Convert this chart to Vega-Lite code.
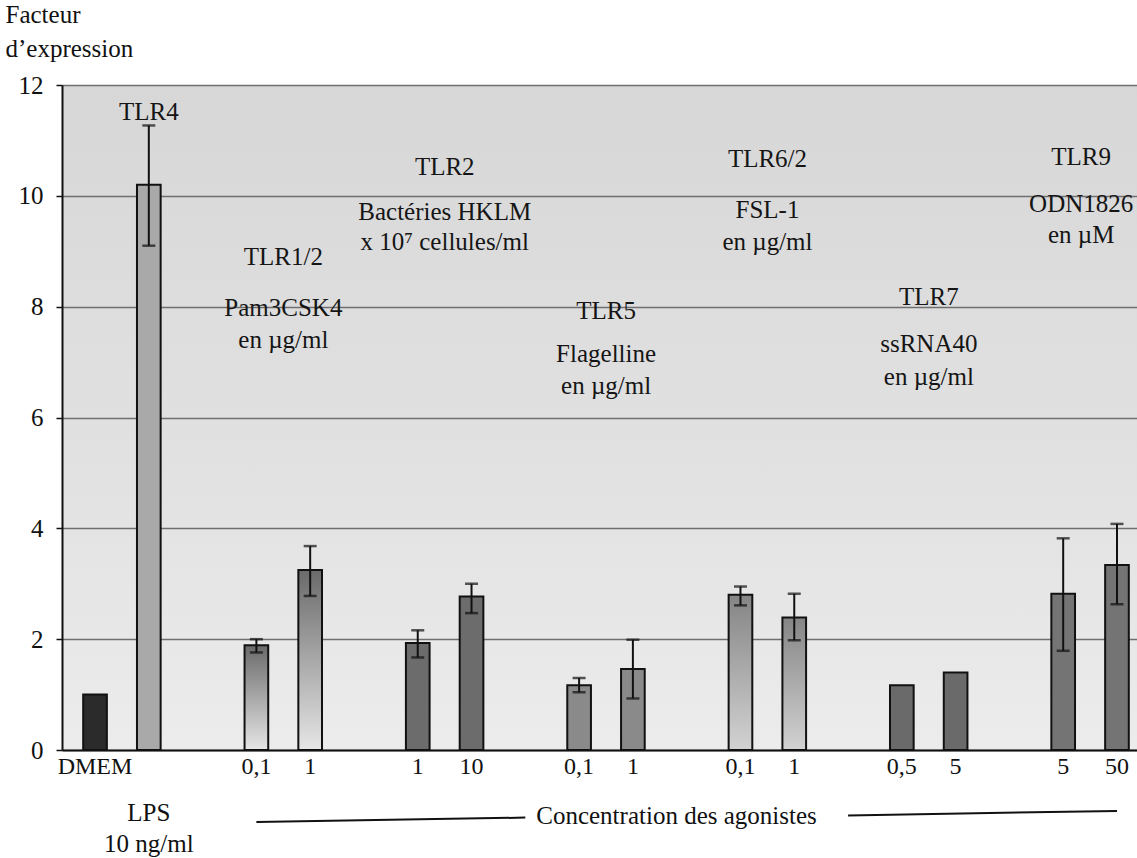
{
  "$schema": "https://vega.github.io/schema/vega-lite/v6.json",
  "width": 1075,
  "height": 665,
  "autosize": {"type": "none"},
  "padding": {"left": 62, "top": 85, "right": 0, "bottom": 108},
  "background": "white",
  "config": {
    "view": {
      "stroke": null,
      "fill": {
        "gradient": "linear", "x1": 0, "y1": 0, "x2": 0, "y2": 1,
        "stops": [
          {"offset": 0, "color": "#d7d7d7"},
          {"offset": 0.6, "color": "#e2e2e2"},
          {"offset": 1, "color": "#ececec"}
        ]
      }
    }
  },
  "datasets": {
    "barres": [
      {"groupe": "DMEM", "dose": "", "cle": "DMEM", "valeur": 1.0, "bas": null, "haut": null},
      {"groupe": "LPS", "dose": "10 ng/ml", "cle": "LPS", "valeur": 10.2, "bas": 9.1, "haut": 11.27},
      {"groupe": "TLR1/2", "dose": "0,1", "cle": "TLR1/2|0,1", "valeur": 1.89, "bas": 1.76, "haut": 2.0},
      {"groupe": "TLR1/2", "dose": "1", "cle": "TLR1/2|1", "valeur": 3.25, "bas": 2.78, "haut": 3.68},
      {"groupe": "TLR2", "dose": "1", "cle": "TLR2|1", "valeur": 1.93, "bas": 1.67, "haut": 2.16},
      {"groupe": "TLR2", "dose": "10", "cle": "TLR2|10", "valeur": 2.77, "bas": 2.47, "haut": 3.0},
      {"groupe": "TLR5", "dose": "0,1", "cle": "TLR5|0,1", "valeur": 1.17, "bas": 1.04, "haut": 1.3},
      {"groupe": "TLR5", "dose": "1", "cle": "TLR5|1", "valeur": 1.46, "bas": 0.93, "haut": 1.99},
      {"groupe": "TLR6/2", "dose": "0,1", "cle": "TLR6/2|0,1", "valeur": 2.8, "bas": 2.61, "haut": 2.95},
      {"groupe": "TLR6/2", "dose": "1", "cle": "TLR6/2|1", "valeur": 2.39, "bas": 1.98, "haut": 2.82},
      {"groupe": "TLR7", "dose": "0,5", "cle": "TLR7|0,5", "valeur": 1.17, "bas": null, "haut": null},
      {"groupe": "TLR7", "dose": "5", "cle": "TLR7|5", "valeur": 1.4, "bas": null, "haut": null},
      {"groupe": "TLR9", "dose": "5", "cle": "TLR9|5", "valeur": 2.82, "bas": 1.79, "haut": 3.82},
      {"groupe": "TLR9", "dose": "50", "cle": "TLR9|50", "valeur": 3.34, "bas": 2.63, "haut": 4.08}
    ],
    "notes": [
      {"cle": "LPS", "texte": "TLR4", "niveau": 11.52},
      {"cle": "TLR1/2|0,1", "texte": "TLR1/2", "niveau": 8.9},
      {"cle": "TLR1/2|0,1", "texte": "Pam3CSK4", "niveau": 7.98},
      {"cle": "TLR1/2|0,1", "texte": "en µg/ml", "niveau": 7.4},
      {"cle": "TLR2|1", "texte": "TLR2", "niveau": 10.52},
      {"cle": "TLR2|1", "texte": "Bactéries HKLM", "niveau": 9.71},
      {"cle": "TLR2|1", "texte": "x 10⁷ cellules/ml", "niveau": 9.17},
      {"cle": "TLR5|0,1", "texte": "TLR5", "niveau": 7.92},
      {"cle": "TLR5|0,1", "texte": "Flagelline", "niveau": 7.15},
      {"cle": "TLR5|0,1", "texte": "en µg/ml", "niveau": 6.57},
      {"cle": "TLR6/2|0,1", "texte": "TLR6/2", "niveau": 10.66},
      {"cle": "TLR6/2|0,1", "texte": "FSL-1", "niveau": 9.74},
      {"cle": "TLR6/2|0,1", "texte": "en µg/ml", "niveau": 9.16},
      {"cle": "TLR7|0,5", "texte": "TLR7", "niveau": 8.18},
      {"cle": "TLR7|0,5", "texte": "ssRNA40", "niveau": 7.33},
      {"cle": "TLR7|0,5", "texte": "en µg/ml", "niveau": 6.73},
      {"cle": "TLR9|5", "texte": "TLR9", "niveau": 10.7},
      {"cle": "TLR9|5", "texte": "ODN1826", "niveau": 9.86},
      {"cle": "TLR9|5", "texte": "en µM", "niveau": 9.29}
    ],
    "legendeLps": [
      {"cle": "LPS", "texte": "LPS", "niveau": -1.13},
      {"cle": "LPS", "texte": "10 ng/ml", "niveau": -1.7}
    ],
    "traits": [
      {"trait": "gauche", "cle": "TLR1/2|0,1", "niveau": -1.3},
      {"trait": "gauche", "cle": "·8", "niveau": -1.22},
      {"trait": "droite", "cle": "·14", "niveau": -1.18},
      {"trait": "droite", "cle": "TLR9|50", "niveau": -1.1}
    ]
  },
  "encoding": {
    "x": {
      "field": "cle",
      "type": "nominal",
      "sort": null,
      "scale": {
        "domain": ["DMEM", "LPS", "·2", "TLR1/2|0,1", "TLR1/2|1", "·5", "TLR2|1", "TLR2|10", "·8", "TLR5|0,1", "TLR5|1", "·11", "TLR6/2|0,1", "TLR6/2|1", "·14", "TLR7|0,5", "TLR7|5", "·17", "TLR9|5", "TLR9|50"],
        "range": [0, 1088],
        "paddingInner": 0.56,
        "paddingOuter": 0.394
      },
      "axis": {
        "title": "Concentration des agonistes",
        "titleFont": "Liberation Serif",
        "titleFontSize": 25,
        "titleFontWeight": "normal",
        "titleColor": "#111111",
        "titleX": 614,
        "titleY": 53,
        "titleBaseline": "top",
        "labelExpr": "indexof(datum.value, '|') >= 0 ? split(datum.value, '|')[1] : (datum.value == 'DMEM' ? 'DMEM' : '')",
        "labelAngle": 0,
        "labelFont": "Liberation Serif",
        "labelFontSize": 24,
        "labelColor": "#111111",
        "labelPadding": 4,
        "labelOverlap": false,
        "labelBound": false,
        "ticks": false,
        "domainColor": "#111111",
        "domainWidth": 2,
        "grid": false
      }
    }
  },
  "layer": [
    {
      "data": {"name": "barres"},
      "transform": [{"filter": "datum.groupe != 'TLR1/2' && datum.groupe != 'TLR6/2'"}],
      "mark": {"type": "bar", "stroke": "#111111", "strokeWidth": 2},
      "encoding": {
        "y": {
          "field": "valeur",
          "type": "quantitative",
          "scale": {"domain": [0, 12], "nice": false},
          "axis": {
            "values": [0, 2, 4, 6, 8, 10, 12],
            "format": "d",
            "title": ["Facteur", "d’expression"],
            "titleAngle": 0,
            "titleAlign": "left",
            "titleBaseline": "top",
            "titleX": -57,
            "titleY": -83,
            "titleFont": "Liberation Serif",
            "titleFontSize": 25,
            "titleFontWeight": "normal",
            "titleColor": "#111111",
            "titleLineHeight": 34,
            "labelFont": "Liberation Serif",
            "labelFontSize": 25,
            "labelColor": "#111111",
            "labelPadding": 13,
            "tickColor": "#111111",
            "tickSize": 6,
            "tickWidth": 1.5,
            "domainColor": "#111111",
            "domainWidth": 2,
            "grid": true,
            "gridColor": "#6f6f6f",
            "gridWidth": 1.3
          }
        },
        "color": {
          "field": "groupe",
          "type": "nominal",
          "legend": null,
          "scale": {
            "domain": ["DMEM", "LPS", "TLR2", "TLR5", "TLR7", "TLR9"],
            "range": ["#2b2b2b", "#a9a9a9", "#6c6c6c", "#8a8a8a", "#6a6a6a", "#747474"]
          }
        }
      }
    },
    {
      "data": {"name": "barres"},
      "transform": [{"filter": "datum.groupe == 'TLR1/2'"}],
      "mark": {
        "type": "bar", "stroke": "#111111", "strokeWidth": 2,
        "color": {
          "gradient": "linear", "x1": 0, "y1": 0, "x2": 0, "y2": 1,
          "stops": [{"offset": 0, "color": "#6a6a6a"}, {"offset": 1, "color": "#e6e6e6"}]
        }
      },
      "encoding": {"y": {"field": "valeur", "type": "quantitative"}}
    },
    {
      "data": {"name": "barres"},
      "transform": [{"filter": "datum.groupe == 'TLR6/2'"}],
      "mark": {
        "type": "bar", "stroke": "#111111", "strokeWidth": 2,
        "color": {
          "gradient": "linear", "x1": 0, "y1": 0, "x2": 0, "y2": 1,
          "stops": [{"offset": 0, "color": "#858585"}, {"offset": 1, "color": "#d2d2d2"}]
        }
      },
      "encoding": {"y": {"field": "valeur", "type": "quantitative"}}
    },
    {
      "data": {"name": "barres"},
      "transform": [{"filter": "isValid(datum.bas)"}],
      "mark": {"type": "rule", "color": "#111111", "strokeWidth": 2},
      "encoding": {
        "y": {"field": "bas", "type": "quantitative"},
        "y2": {"field": "haut"}
      }
    },
    {
      "data": {"name": "barres"},
      "transform": [{"filter": "isValid(datum.haut)"}],
      "mark": {"type": "tick", "color": "#111111", "size": 13, "thickness": 2.5, "orient": "horizontal"},
      "encoding": {"y": {"field": "haut", "type": "quantitative"}}
    },
    {
      "data": {"name": "barres"},
      "transform": [{"filter": "isValid(datum.bas)"}],
      "mark": {"type": "tick", "color": "#111111", "size": 13, "thickness": 2.5, "orient": "horizontal"},
      "encoding": {"y": {"field": "bas", "type": "quantitative"}}
    },
    {
      "data": {"name": "notes"},
      "transform": [{"filter": "datum.cle == 'LPS'"}],
      "mark": {"type": "text", "font": "Liberation Serif", "fontSize": 25, "color": "#151515", "align": "center", "baseline": "middle"},
      "encoding": {
        "y": {"field": "niveau", "type": "quantitative"},
        "text": {"field": "texte"}
      }
    },
    {
      "data": {"name": "notes"},
      "transform": [{"filter": "datum.cle != 'LPS' && datum.cle != 'TLR9|5'"}],
      "mark": {"type": "text", "font": "Liberation Serif", "fontSize": 25, "color": "#151515", "align": "center", "baseline": "middle", "dx": 27},
      "encoding": {
        "y": {"field": "niveau", "type": "quantitative"},
        "text": {"field": "texte"}
      }
    },
    {
      "data": {"name": "notes"},
      "transform": [{"filter": "datum.cle == 'TLR9|5'"}],
      "mark": {"type": "text", "font": "Liberation Serif", "fontSize": 25, "color": "#151515", "align": "center", "baseline": "middle", "dx": 18},
      "encoding": {
        "y": {"field": "niveau", "type": "quantitative"},
        "text": {"field": "texte"}
      }
    },
    {
      "data": {"name": "legendeLps"},
      "mark": {"type": "text", "font": "Liberation Serif", "fontSize": 25, "color": "#111111", "align": "center", "baseline": "middle", "clip": false},
      "encoding": {
        "y": {"field": "niveau", "type": "quantitative"},
        "text": {"field": "texte"}
      }
    },
    {
      "data": {"name": "traits"},
      "mark": {"type": "line", "color": "#111111", "strokeWidth": 2, "clip": false},
      "encoding": {
        "y": {"field": "niveau", "type": "quantitative"},
        "detail": {"field": "trait"}
      }
    }
  ]
}
